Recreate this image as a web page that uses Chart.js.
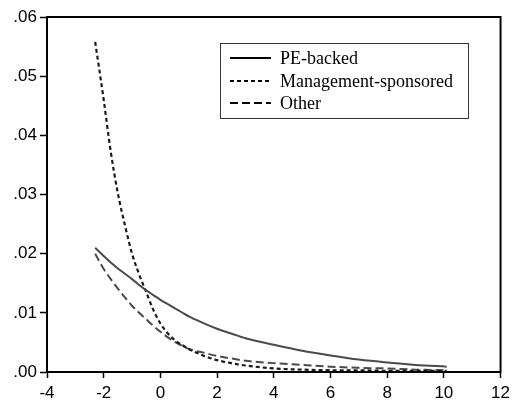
<!DOCTYPE html>
<html>
<head>
<meta charset="utf-8">
<script src="https://cdn.jsdelivr.net/npm/chart.js@4/dist/chart.umd.min.js"></script>
<style>
  html, body { margin: 0; padding: 0; background: #fff; }
  #wrap { width: 515px; height: 413px; }
</style>
</head>
<body>
<div id="wrap"><canvas id="chart" width="515" height="413"></canvas></div>
<script>
// values
const xs = [-2.3, -2, -1.75, -1.5, -1.25, -1, -0.75, -0.5, -0.25, 0, 0.25, 0.5, 0.75, 1, 1.5, 2, 2.5, 3, 4, 5, 6, 7, 8, 9, 10.1];
const peBacked = [0.021, 0.0196, 0.0185, 0.0175, 0.0166, 0.0157, 0.0147, 0.0138, 0.013, 0.0122, 0.0115, 0.0108, 0.0101, 0.0094, 0.0083, 0.0073, 0.0065, 0.0057, 0.0046, 0.0036, 0.0028, 0.0021, 0.0016, 0.0012, 0.0009];
const mgmtSponsored = [0.0558, 0.046, 0.0372, 0.0302, 0.0248, 0.02, 0.0165, 0.0135, 0.0105, 0.0082, 0.0066, 0.0054, 0.0046, 0.0039, 0.0028, 0.002, 0.0015, 0.0011, 0.0006, 0.0004, 0.0003, 0.0003, 0.0002, 0.0002, 0.0002];
const other = [0.02, 0.0174, 0.0157, 0.0141, 0.0126, 0.0112, 0.01, 0.0089, 0.0078, 0.0068, 0.0059, 0.0051, 0.0045, 0.0039, 0.0033, 0.0027, 0.0023, 0.0019, 0.0015, 0.0012, 0.0009, 0.0007, 0.0006, 0.0004, 0.0003];
const seriesNames = ["PE-backed", "Management-sponsored", "Other"];
const xTicks = [-4, -2, 0, 2, 4, 6, 8, 10, 12];
const yTicks = [0, 0.01, 0.02, 0.03, 0.04, 0.05, 0.06];

function pts(ys) {
  return xs.map((x, i) => ({ x: x, y: ys[i] }));
}

// frame round the plot + legend box inside it
const framePlugin = {
  id: "frame",
  afterDraw(chart) {
    const ctx = chart.ctx;
    const a = chart.chartArea;
    ctx.save();
    ctx.strokeStyle = "#000";
    ctx.lineWidth = 2;
    ctx.strokeRect(a.left, a.top, a.right - a.left, a.bottom - a.top);

    // legend
    const bx = 220, by = 43, bw = 248, bh = 75;
    ctx.lineWidth = 1;
    ctx.fillStyle = "#fff";
    ctx.fillRect(bx, by, bw, bh);
    ctx.strokeStyle = "#333";
    ctx.strokeRect(bx + 0.5, by + 0.5, bw, bh);
    ctx.font = "18px 'Liberation Serif', 'Times New Roman', serif";
    ctx.textBaseline = "middle";
    ctx.fillStyle = "#000";
    const rows = [58, 81, 103];
    chart.data.datasets.forEach((ds, i) => {
      ctx.beginPath();
      ctx.strokeStyle = "#000";
      ctx.lineWidth = 2;
      ctx.setLineDash(ds.borderDash || []);
      ctx.moveTo(230, rows[i]);
      ctx.lineTo(271, rows[i]);
      ctx.stroke();
      ctx.setLineDash([]);
      ctx.fillText(ds.label, 280, rows[i] + 1);
    });
    ctx.restore();
  },
};

new Chart(document.getElementById("chart").getContext("2d"), {
  type: "line",
  data: {
    datasets: [
      {
        label: seriesNames[0],
        data: pts(peBacked),
        borderColor: "#4a4a4a",
        borderWidth: 2,
        pointRadius: 0,
        cubicInterpolationMode: "monotone",
      },
      {
        label: seriesNames[1],
        data: pts(mgmtSponsored),
        borderColor: "#1a1a1a",
        borderWidth: 2.2,
        borderDash: [4, 3],
        pointRadius: 0,
        cubicInterpolationMode: "monotone",
      },
      {
        label: seriesNames[2],
        data: pts(other),
        borderColor: "#4a4a4a",
        borderWidth: 2,
        borderDash: [8, 4],
        pointRadius: 0,
        cubicInterpolationMode: "monotone",
      },
    ],
  },
  options: {
    responsive: false,
    animation: false,
    layout: { padding: { left: 0, top: 17, right: 13, bottom: 0 } },
    plugins: { legend: { display: false }, tooltip: { enabled: false } },
    scales: {
      x: {
        type: "linear",
        min: -4,
        max: 12,
        afterBuildTicks: (s) => { s.ticks = xTicks.map((v) => ({ value: v })); },
        afterFit: (s) => { s.height = 41; },
        grid: { drawOnChartArea: false, drawTicks: true, tickLength: 6, tickColor: "#000", tickWidth: 1.5 },
        border: { color: "#000", width: 2 },
        ticks: {
          color: "#000",
          padding: 5,
          font: { family: "'Liberation Sans', Arial, sans-serif", size: 17 },
          maxRotation: 0,
        },
      },
      y: {
        min: 0,
        max: 0.06,
        afterBuildTicks: (s) => { s.ticks = yTicks.map((v) => ({ value: v })); },
        afterFit: (s) => { s.width = 47; },
        grid: { drawOnChartArea: false, drawTicks: true, tickLength: 7, tickColor: "#000", tickWidth: 1.5 },
        border: { color: "#000", width: 2 },
        ticks: {
          color: "#000",
          padding: 3,
          font: { family: "'Liberation Sans', Arial, sans-serif", size: 17 },
          callback: (v) => v.toFixed(2).replace(/^0/, ""),
        },
      },
    },
  },
  plugins: [framePlugin],
});
</script>
</body>
</html>
